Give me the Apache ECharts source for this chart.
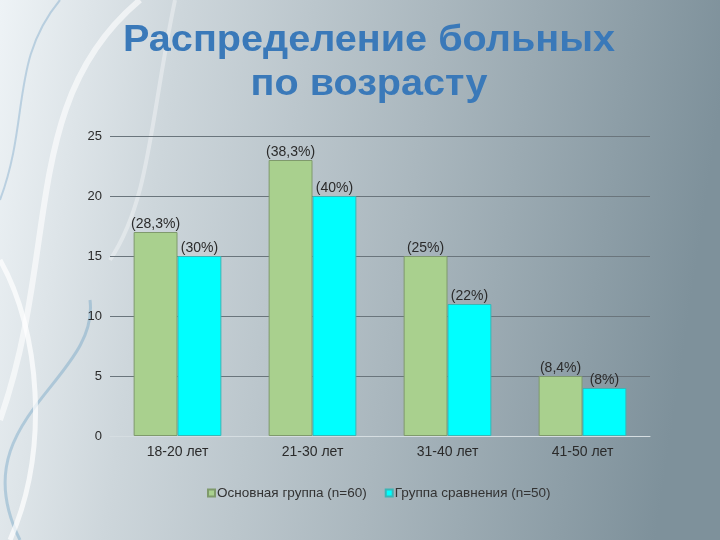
<!DOCTYPE html>
<html><head><meta charset="utf-8">
<script src="https://cdn.jsdelivr.net/npm/echarts@6/dist/echarts.min.js"></script>
<style>html,body{margin:0;padding:0;}#c{width:720px;height:540px;}</style>
</head><body><div id="c"></div>
<script>
const categories = ['18-20 лет', '21-30 лет', '31-40 лет', '41-50 лет'];
const mainGroup = [17, 23, 15, 5];
const compGroup = [15, 20, 11, 4];
const mainLabels = ['(28,3%)', '(38,3%)', '(25%)', '(8,4%)'];
const compLabels = ['(30%)', '(40%)', '(22%)', '(8%)'];
const seriesNames = ['Основная группа (n=60)', 'Группа сравнения (n=50)'];
const yTicks = [0, 5, 10, 15, 20, 25];
const titleLines = ['Распределение больных', 'по возрасту'];

const FONT = 'Liberation Sans, Arial, sans-serif';
const chart = echarts.init(document.getElementById('c'));
const labelStyle = { show: true, position: 'top', distance: 1, color: '#2b2b2b', fontSize: 14, fontFamily: FONT };
chart.setOption({
  backgroundColor: {
    type: 'linear', x: 0, y: 0, x2: 1, y2: 0.2,
    colorStops: [
      { offset: 0, color: '#eef3f6' },
      { offset: 0.25, color: '#cdd6db' },
      { offset: 0.6, color: '#aab7be' },
      { offset: 1, color: '#7e919b' }
    ]
  },
  graphic: [
    { type: 'bezierCurve', silent: true, z: -1, shape: { x1: 20, y1: 540, x2: 90, y2: 300, cpx1: -40, cpy1: 420, cpx2: 100, cpy2: 380 }, style: { stroke: 'rgba(90,150,190,0.35)', lineWidth: 3, fill: null } },
    { type: 'bezierCurve', silent: true, z: -1, shape: { x1: 0, y1: 420, x2: 140, y2: 0, cpx1: 60, cpy1: 250, cpx2: 20, cpy2: 100 }, style: { stroke: 'rgba(255,255,255,0.6)', lineWidth: 6, fill: null } },
    { type: 'bezierCurve', silent: true, z: -1, shape: { x1: 0, y1: 200, x2: 60, y2: 0, cpx1: 30, cpy1: 120, cpx2: 10, cpy2: 60 }, style: { stroke: 'rgba(80,140,185,0.3)', lineWidth: 2, fill: null } },
    { type: 'bezierCurve', silent: true, z: -1, shape: { x1: 10, y1: 540, x2: 0, y2: 260, cpx1: 50, cpy1: 450, cpx2: 40, cpy2: 330 }, style: { stroke: 'rgba(255,255,255,0.7)', lineWidth: 5, fill: null } },
    { type: 'bezierCurve', silent: true, z: -1, shape: { x1: 175, y1: 0, x2: 110, y2: 260, cpx1: 150, cpy1: 120, cpx2: 150, cpy2: 200 }, style: { stroke: 'rgba(255,255,255,0.35)', lineWidth: 4, fill: null } },
    { type: 'text', x: 369, y: 41, scaleX: 1.1, style: { text: titleLines[0], fill: '#3a79b9', font: 'bold 36px ' + FONT, textAlign: 'center', textVerticalAlign: 'middle' } },
    { type: 'text', x: 369, y: 85, scaleX: 1.1, style: { text: titleLines[1], fill: '#3a79b9', font: 'bold 36px ' + FONT, textAlign: 'center', textVerticalAlign: 'middle' } }
  ],
  legend: {
    top: 481, left: 202, itemWidth: 7, itemHeight: 7, itemGap: 18,
    icon: 'rect',
    textStyle: { color: '#333', fontSize: 13.5, fontFamily: FONT, padding: [0, 0, 0, -3] },
    data: seriesNames
  },
  grid: { left: 110, right: 70, top: 136, bottom: 104, containLabel: false },
  xAxis: {
    type: 'category', data: categories,
    axisLine: { lineStyle: { color: '#d5dde1', width: 1 } },
    axisTick: { show: false },
    axisLabel: { color: '#2b2b2b', fontSize: 14, margin: 9, fontFamily: FONT }
  },
  yAxis: {
    type: 'value', min: yTicks[0], max: yTicks[yTicks.length - 1], interval: 5,
    axisLine: { show: false }, axisTick: { show: false },
    axisLabel: { color: '#2b2b2b', fontSize: 13, margin: 8, fontFamily: FONT },
    splitLine: { lineStyle: { color: '#6a757c', width: 1.2 } }
  },
  series: [
    {
      name: seriesNames[0], type: 'bar', data: mainGroup, barGap: '0%', barCategoryGap: '35%',
      itemStyle: { color: '#a9d08e', borderColor: '#7f9a6c', borderWidth: 1 },
      label: Object.assign({}, labelStyle, { formatter: p => mainLabels[p.dataIndex] })
    },
    {
      name: seriesNames[1], type: 'bar', data: compGroup,
      itemStyle: { color: '#00ffff', borderColor: '#3bb5b5', borderWidth: 1 },
      label: Object.assign({}, labelStyle, { formatter: p => compLabels[p.dataIndex] })
    }
  ]
});
</script></body></html>
